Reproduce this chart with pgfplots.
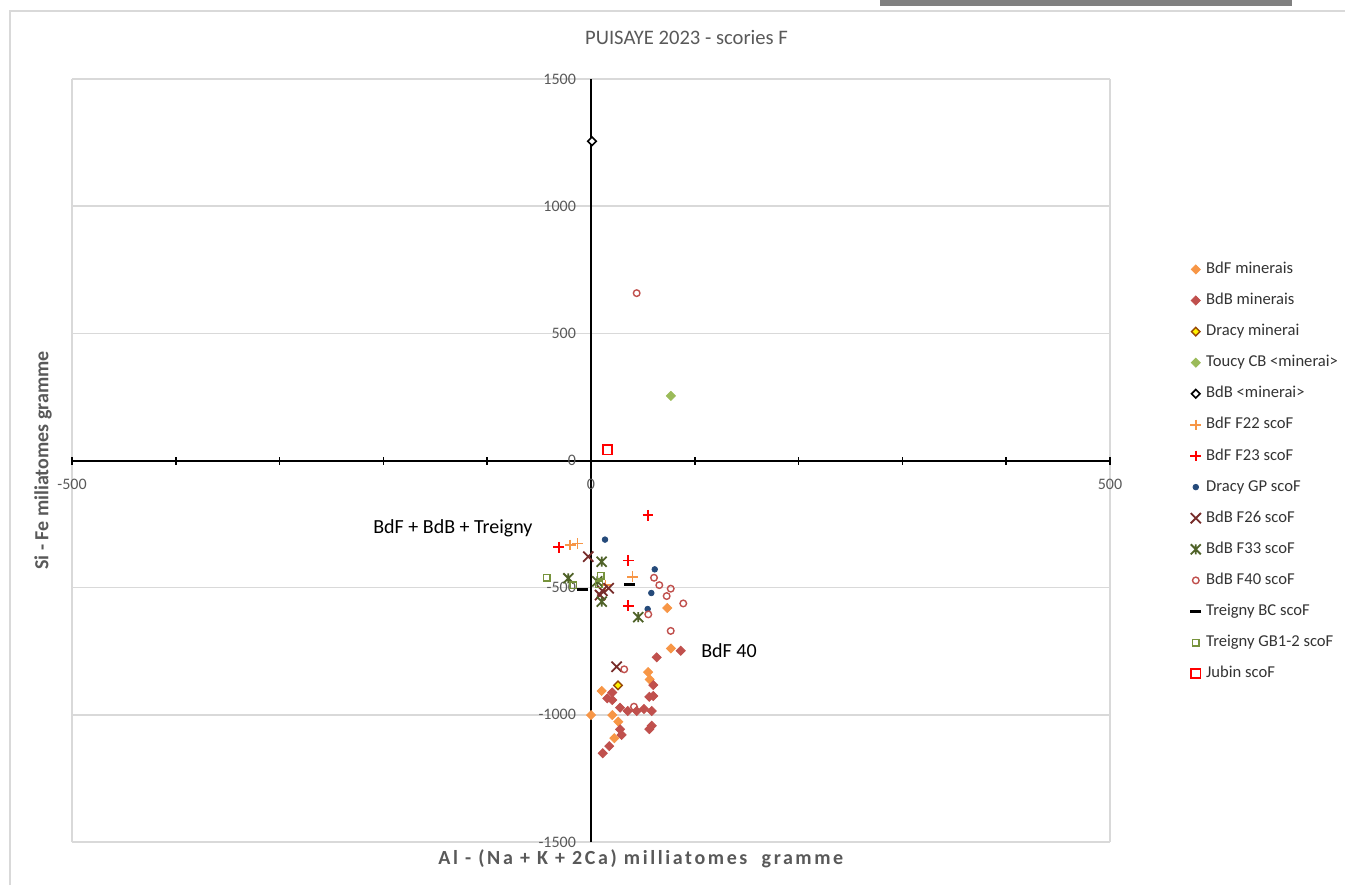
\documentclass[border=0pt]{standalone}
\usepackage{fontspec}
\setmainfont{Carlito}
\usepackage{pgfplots}
\pgfplotsset{compat=1.18}
\definecolor{cBdF}{HTML}{F79646}
\definecolor{cBdB}{HTML}{C0504D}
\definecolor{cToucy}{HTML}{9BBB59}
\definecolor{cDracyB}{HTML}{984807}
\definecolor{cBlue}{HTML}{254A7A}
\definecolor{cF26}{HTML}{772C2A}
\definecolor{cF33}{HTML}{4F6228}
\definecolor{cGB}{HTML}{77933C}
\definecolor{cGrid}{HTML}{D9D9D9}
\definecolor{cTxt}{HTML}{595959}
\definecolor{cBar}{HTML}{808080}
\pgfdeclareplotmark{xstar}{%
  \pgfpathmoveto{\pgfqpoint{-\pgfplotmarksize}{-\pgfplotmarksize}}%
  \pgfpathlineto{\pgfqpoint{\pgfplotmarksize}{\pgfplotmarksize}}%
  \pgfpathmoveto{\pgfqpoint{-\pgfplotmarksize}{\pgfplotmarksize}}%
  \pgfpathlineto{\pgfqpoint{\pgfplotmarksize}{-\pgfplotmarksize}}%
  \pgfpathmoveto{\pgfqpoint{0pt}{-\pgfplotmarksize}}%
  \pgfpathlineto{\pgfqpoint{0pt}{\pgfplotmarksize}}%
  \pgfusepathqstroke}
\begin{document}
\begin{tikzpicture}[x=1pt,y=1pt]
\path[use as bounding box] (0,0) rectangle (672.5,442.5);
\fill[cBar] (440,439.5) rectangle (646,442.5);
\draw[cGrid, line width=0.75pt] (5,0) -- (5,437) -- (672.5,437);
\begin{axis}[
  at={(36pt,21.5pt)}, anchor=south west,
  scale only axis, width=519pt, height=381.5pt,
  xmin=-500, xmax=500, ymin=-1500, ymax=1500,
  axis lines=middle,
  axis line style={-, black, line width=1pt},
  xtick={-500,0,500},
  minor xtick={-400,-300,-200,-100,100,200,300,400},
  ytick={-1500,-1000,...,1500},
  hide obscured x ticks=false, hide obscured y ticks=false,
  xmajorgrids, ymajorgrids,
  major grid style={cGrid, line width=0.75pt},
  tick align=center,
  major tick length=4pt, minor tick length=4pt,
  xtick style={black, line width=0.75pt},
  ytick style={draw=none},
  /pgf/number format/assume math mode=true,
  /pgf/number format/1000 sep={},
  ticklabel style={font=\fontsize{8}{9.6}\selectfont, text=cTxt},
  xticklabel style={yshift=-4pt},
  yticklabel style={xshift=-2pt},
  title={PUISAYE 2023 - scories F},
  title style={at={(axis description cs:0.592,1.039)}, anchor=center, font=\fontsize{10.3}{12}\selectfont, text=cTxt},
  xlabel={Al - (Na + K + 2Ca) milliatomes\ \ gramme},
  ylabel={Si - Fe miliatomes gramme},
  xlabel style={at={(axis description cs:0.548,-0.022)}, anchor=center, font=\fontsize{10}{12}\selectfont\bfseries\addfontfeature{LetterSpace=13}, text=cTxt},
  ylabel style={at={(axis description cs:-0.028,0.5)}, anchor=center, rotate=90, font=\fontsize{10}{12}\selectfont\bfseries, text=cTxt},
  legend style={at={(axis description cs:1,1)}, anchor=north west, xshift=40pt, yshift=-91pt,
    draw=none, fill=none, inner sep=0pt, font=\fontsize{8.3}{10}\selectfont, text=black!80,
    row sep=7.55pt, column sep=2.5pt, nodes={text height=6pt, text depth=2pt, inner sep=0pt}},
  legend cell align=left,
  legend image code/.code={\draw[mark repeat=2,mark phase=2] plot coordinates {(0pt,0pt)(4pt,0pt)(8pt,0pt)};},
]
% BdF minerais
\addplot[only marks, color=cBdF, mark=square*, mark size=1.6pt, mark options={rotate=45, fill=cBdF, draw=cBdF}] coordinates {
 (73.5,-580) (77,-739) (55,-832) (56.5,-861) (10.3,-906) (0,-1001) (20.5,-1001) (26.3,-1027) (22.5,-1092)};
\addlegendentry{BdF minerais}
% BdB minerais
\addplot[only marks, color=cBdB, mark=square*, mark size=1.6pt, mark options={rotate=45, fill=cBdB, draw=cBdB}] coordinates {
 (86.4,-748) (63.3,-774) (60,-883) (20.5,-912) (15.7,-935) (20.5,-942) (56.2,-929) (60,-926)
 (28,-972) (35.4,-985) (44,-985) (51,-977) (58.5,-985) (28,-1057) (29.5,-1079) (56.2,-1056)
 (58.5,-1043) (17.6,-1123) (11.3,-1151)};
\addlegendentry{BdB minerais}
% Dracy minerai
\addplot[only marks, color=cDracyB, mark=square*, mark size=1.5pt, mark options={rotate=45, fill=yellow, draw=cDracyB, line width=0.7pt}] coordinates {(26,-884)};
\addlegendentry{Dracy minerai}
% Toucy CB
\addplot[only marks, color=cToucy, mark=square*, mark size=1.6pt, mark options={rotate=45, fill=cToucy, draw=cToucy}] coordinates {(77,254)};
\addlegendentry{Toucy CB <minerai>}
% BdB <minerai>
\addplot[only marks, color=black, mark=square*, mark size=1.5pt, mark options={rotate=45, fill=white, draw=black, line width=0.8pt}] coordinates {(1,1255)};
\addlegendentry{BdB <minerai>}
% BdF F22
\addplot[only marks, color=cBdF, mark=+, mark size=2.7pt, mark options={line width=0.9pt}] coordinates {
 (-20,-332) (-13,-326) (40,-457) (14,-490)};
\addlegendentry{BdF F22 scoF}
% BdF F23
\addplot[only marks, color=red, mark=+, mark size=2.7pt, mark options={line width=0.9pt}] coordinates {
 (55,-215) (-31,-341) (36,-393) (36,-571)};
\addlegendentry{BdF F23 scoF}
% Dracy GP
\addplot[only marks, color=cBlue, mark=*, mark size=1.4pt] coordinates {
 (13.5,-311) (61.4,-428) (58.1,-521) (54.6,-584)};
\addlegendentry{Dracy GP scoF}
% BdB F26
\addplot[only marks, color=cF26, mark=x, mark size=3.6pt, mark options={line width=0.9pt}] coordinates {
 (-2.6,-378) (17,-502) (11,-512) (8.7,-529) (24.7,-811)};
\addlegendentry{BdB F26 scoF}
% BdB F33
\addplot[only marks, color=cF33, mark=xstar, mark size=2.5pt, mark options={line width=0.9pt}] coordinates {
 (10.3,-398) (-21.9,-463) (6,-475) (10.3,-555) (45.5,-616)};
\addlegendentry{BdB F33 scoF}
% BdB F40
\addplot[only marks, color=cBdB, mark=o, mark size=1.65pt, mark options={line width=0.7pt, fill=white}] coordinates {
 (44,658) (60.7,-461) (65.8,-490) (76.8,-504) (72.9,-533) (88.9,-562) (55.2,-605) (76.8,-670) (32,-821) (41.4,-968)};
\addlegendentry{BdB F40 scoF}
% Treigny BC
\addplot[only marks, color=black, mark=-, mark size=2.7pt, mark options={line width=1.5pt}] coordinates {
 (36.9,-488) (-8,-509)};
\addlegendentry{Treigny BC scoF}
% Treigny GB1-2
\addplot[only marks, color=cGB, mark=square, mark size=1.65pt, mark options={line width=0.7pt}] coordinates {
 (-42.7,-461) (-17,-490) (9.3,-453) (7.7,-487)};
\addlegendentry{Treigny GB1-2 scoF}
% Jubin
\addplot[only marks, color=red, mark=square, mark size=2.3pt, mark options={line width=0.9pt, fill=white}] coordinates {(16,42)};
\addlegendentry{Jubin scoF}
\node[font=\fontsize{10}{12}\selectfont] at (axis cs:-133,-265) {BdF + BdB + Treigny};
\node[font=\fontsize{10}{12}\selectfont] at (axis cs:133,-749) {BdF 40};
\end{axis}
\end{tikzpicture}
\end{document}
